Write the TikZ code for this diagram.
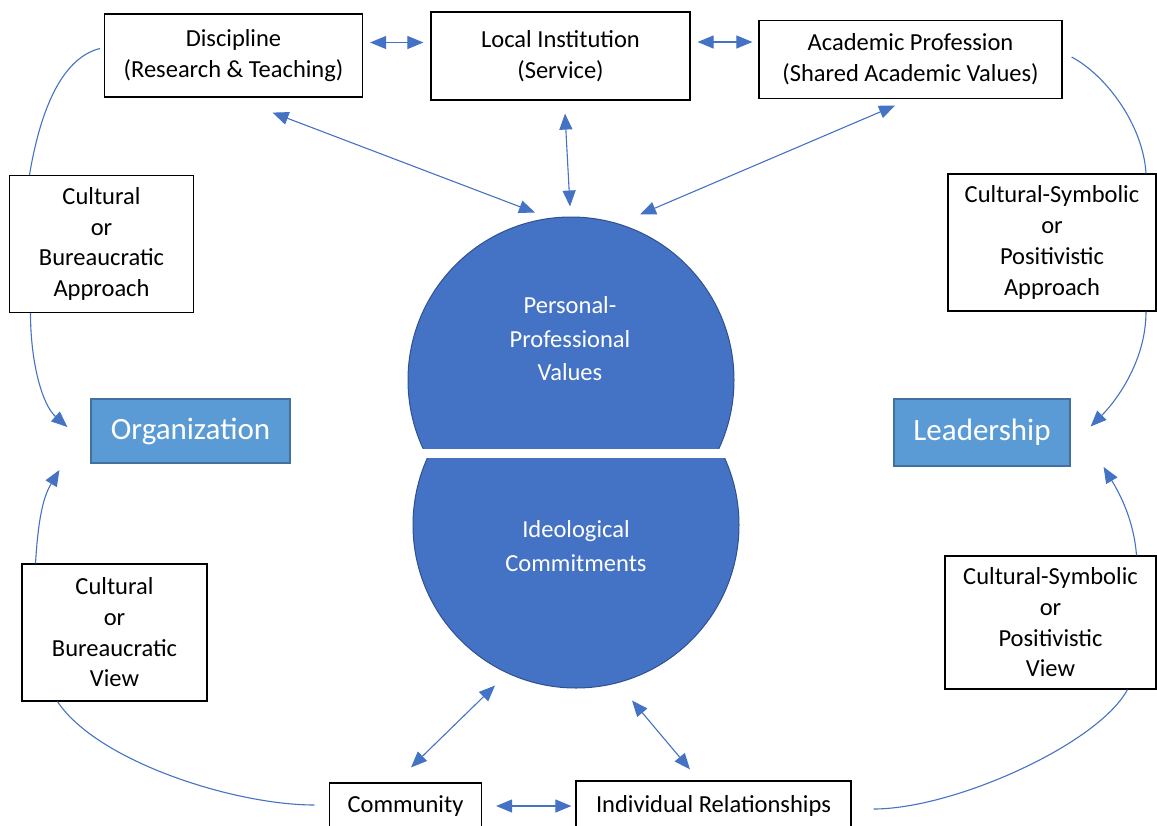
\documentclass[tikz,border=0pt]{standalone}
\usepackage{fontspec}
\setmainfont{Carlito}
\usetikzlibrary{arrows.meta,calc}
\definecolor{linkblue}{HTML}{4472C4}
\definecolor{ballblue}{HTML}{4472C4}
\definecolor{balledge}{HTML}{2F528F}
\definecolor{tagblue}{HTML}{5B9BD5}
\definecolor{tagedge}{HTML}{41719C}
\begin{document}
\begin{tikzpicture}[x=1pt,y=-1pt,
  txtbox/.style={draw, line width=1.2pt, align=center, inner sep=0pt, font=\fontsize{24.5}{30.7}\selectfont},
  tag/.style={draw=tagedge, fill=tagblue, line width=1.2pt, text=white, inner sep=0pt, font=\fontsize{31}{36}\selectfont},
  ball/.style={circle, draw=balledge, fill=ballblue, line width=1pt, minimum size=326pt, inner sep=0pt},
  balltxt/.style={text=white, align=center, font=\fontsize{24.5}{33.5}\selectfont},
  link/.style={draw=linkblue, line width=1.1pt},
  dbl/.style={link, {Triangle[length=16pt,width=13pt]}-{Triangle[length=16pt,width=13pt]}},
  one/.style={link, -{Triangle[length=16pt,width=13pt]}}]
\useasboundingbox (0,0) rectangle (1157,825);
\node[txtbox, minimum width=258pt, minimum height=83pt] (disc) at (233.5,55.5) {Discipline\\(Research \& Teaching)};
\node[txtbox, minimum width=259pt, minimum height=88pt] (local) at (560.5,56) {Local Institution\\(Service)};
\node[txtbox, minimum width=303pt, minimum height=78pt] (acad) at (910.5,59.5) {Academic Profession\\(Shared Academic Values)};
\node[txtbox, minimum width=184pt, minimum height=137pt] (appL) at (101.5,244) {Cultural\\or\\Bureaucratic\\Approach};
\node[txtbox, minimum width=208pt, minimum height=137pt] (appR) at (1052,242.5) {Cultural-Symbolic\\or\\Positivistic\\Approach};
\node[tag, minimum width=199pt, minimum height=64pt] (org) at (190.5,431) {Organization};
\node[tag, minimum width=176pt, minimum height=67pt] (lead) at (982,432.5) {Leadership};
\node[txtbox, minimum width=185pt, minimum height=137pt] (viewL) at (114.5,632.5) {Cultural\\or\\Bureaucratic\\View};
\node[txtbox, minimum width=211pt, minimum height=133pt] (viewR) at (1050.5,622.5) {Cultural-Symbolic\\or\\Positivistic\\View};
\node[txtbox, minimum width=152pt, minimum height=46pt] (comm) at (405.5,806) {Community};
\node[txtbox, minimum width=275pt, minimum height=50pt] (indiv) at (713.5,806) {Individual Relationships};
\begin{scope}
\clip (0,0) rectangle (1157,448);
\node[ball] (upper) at (571,380) {};
\end{scope}
\begin{scope}
\clip (0,458) rectangle (1157,825);
\node[ball] (lower) at (576,525) {};
\end{scope}
\node[balltxt] (ppv) at (570,339) {Personal-\\Professional\\Values};
\node[balltxt] (ideo) at (576,546) {Ideological\\Commitments};
\draw[dbl] ($(disc.east)+(7,-13)$) -- ($(local.west)+(-7,-13.5)$);
\draw[dbl] ($(local.east)+(7,-14)$) -- ($(acad.west)+(-6,-17.5)$);
\draw[dbl] ($(disc.south)+(39,15)$) -- ($(upper.north)+(-36,-4)$);
\draw[dbl] ($(local.south)+(4.5,13)$) -- ($(upper.north)+(-1,-10)$);
\draw[dbl] ($(acad.south)+(-15.5,6.5)$) -- ($(upper.north)+(69,-2)$);
\draw[dbl] ($(comm.north)+(5.5,-15)$) -- ($(lower.south)+(-81,-3)$);
\draw[dbl] ($(indiv.north)+(-23.5,-11)$) -- ($(lower.south)+(56,12)$);
\draw[dbl] ($(comm.east)+(14,0)$) -- ($(indiv.west)+(-4,0)$);
\draw[link] ($(disc.west)+(-4,-7)$) .. controls +(-40,10) and +(10,-60) .. ($(appL.north)+(-72,0)$);
\draw[one] ($(appL.south)+(-71,0)$) .. controls +(0,50) and +(-25,-22) .. ($(org.west)+(-23,-4)$);
\draw[one] ($(viewL.north)+(-79,0)$) .. controls +(3,-50) and +(-15,25) .. ($(org.west)+(-31,39)$);
\draw[link] ($(viewL.south)+(-57,0)$) .. controls +(40,60) and +(-80,0) .. ($(comm.west)+(-14.5,-1)$);
\draw[link] ($(acad.east)+(9,-2.5)$) .. controls +(34,18) and +(-3,-49) .. ($(appR.north)+(94,0)$);
\draw[one] ($(appR.south)+(94,0)$) .. controls +(0,50) and +(25,-25) .. ($(lead.east)+(20,-6)$);
\draw[one] ($(viewR.north)+(86,0)$) .. controls +(-3,-40) and +(12,20) .. ($(lead.east)+(33,34.5)$);
\draw[link] ($(viewR.south)+(77,0)$) .. controls +(-30,55) and +(80,0) .. ($(indiv.east)+(22,3)$);
\end{tikzpicture}
\end{document}
